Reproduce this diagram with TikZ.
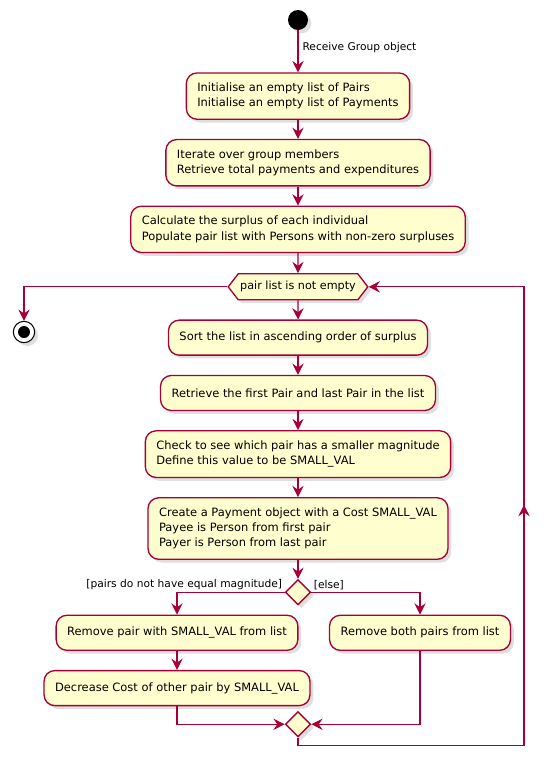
\documentclass[tikz,border=0pt]{standalone}
\usepackage{fontspec}
\setmainfont{DejaVu Sans}
\usetikzlibrary{arrows.meta,decorations.markings,calc,positioning,shapes.geometric,shapes.symbols,shadows}
\definecolor{activityColor}{HTML}{FEFECE}
\definecolor{borderColor}{HTML}{A80036}
\tikzset{shade/.style={drop shadow={shadow xshift=2.5pt, shadow yshift=-2.5pt, opacity=0.25}}}
\tikzset{activity/.style={shade, fill=activityColor, draw=borderColor, line width=1pt, align=left, rounded corners=8pt, inner xsep=8.25pt, inner ysep=7.5pt, minimum height=26.25pt, font=\fontsize{8.6pt}{11.4pt}\selectfont}}
\tikzset{condition/.style={activity, shape=signal, signal to=west and east, signal pointer angle=105, sharp corners, inner xsep=1.5pt, inner ysep=3pt, minimum height=19.5pt, font=\fontsize{8.4pt}{10pt}\selectfont}}
\tikzset{branch/.style={activity, shape=diamond, sharp corners, inner sep=0pt, minimum size=19pt}}
\tikzset{initial/.style={shade, circle, fill=black, inner sep=0pt, minimum size=15pt}}
\tikzset{final/.style={shade, circle, draw=black, fill=white, line width=0.8pt, inner sep=0pt, minimum size=16pt, path picture={\fill[black] (path picture bounding box.center) circle (4.5pt);}}}
\tikzset{guard/.style={font=\fontsize{8pt}{10pt}\selectfont, inner sep=1.5pt}}
\tikzstyle{arrow} = [draw=borderColor, line width=0.8pt, -{Stealth[length=8.5pt, width=8.5pt, inset=3pt]}]

\begin{document}
\begin{tikzpicture}[x=0.75pt, y=-0.75pt, node distance=14.25pt]
	\useasboundingbox (0,0) rectangle (549,764);
	% Nodes
	\node (start) [initial] at (298,20) {};
	\node (init) [activity, below=31.5pt of start] {Initialise an empty list of Pairs\\Initialise an empty list of Payments};
	\node (iterate) [activity, below=of init] {Iterate over group members\\Retrieve total payments and expenditures};
	\node (surplus) [activity, below=of iterate] {Calculate the surplus of each individual\\Populate pair list with Persons with non-zero surpluses};
	\node (loop) [condition, below=15pt of surplus] {pair list is not empty};
	\node (stop) [final] at (24,332) {};
	\node (sort) [activity, below=of loop] {Sort the list in ascending order of surplus};
	\node (retrieve) [activity, below=of sort] {Retrieve the first Pair and last Pair in the list};
	\node (check) [activity, below=of retrieve] {Check to see which pair has a smaller magnitude\\Define this value to be SMALL\_VAL};
	\node (create) [activity, below=of check] {Create a Payment object with a Cost SMALL\_VAL\\Payee is Person from first pair\\Payer is Person from last pair};
	\node (decision) [branch, below=of create] {};
	\node (removeOne) [activity, below=6.75pt of decision, xshift=-90.75pt] {Remove pair with SMALL\_VAL from list};
	\node (decrease) [activity, below=of removeOne] {Decrease Cost of other pair by SMALL\_VAL};
	\node (removeBoth) [activity, below=6.75pt of decision, xshift=91.5pt] {Remove both pairs from list};
	\node (merge) [branch] at ($(decrease.south -| decision)+(0,18)$) {};
	\coordinate (loopCorner) at ($(merge.south)+(226,8)$);

	% Connectors
	\begin{scope}[->]
		\draw [arrow] (start) -- node[guard, right, pos=0.4, inner sep=3pt] {Receive Group object} (init);
		\draw [arrow] (init) -- (iterate);
		\draw [arrow] (iterate) -- (surplus);
		\draw [arrow] (surplus) -- (loop);
		\draw [arrow] (loop.west) -| (stop.north);
		\draw [arrow] (loop) -- (sort);
		\draw [arrow] (sort) -- (retrieve);
		\draw [arrow] (retrieve) -- (check);
		\draw [arrow] (check) -- (create);
		\draw [arrow] (create) -- (decision);
		\draw [arrow] (decision.west) -| node[guard, anchor=south east, pos=0] {[pairs do not have equal magnitude]} (removeOne.north);
		\draw [arrow] (decision.east) -| node[guard, anchor=south west, pos=0] {[else]} (removeBoth.north);
		\draw [arrow] (removeOne) -- (decrease);
		\draw [arrow] (decrease.south) |- (merge.west);
		\draw [arrow] (removeBoth.south) |- (merge.east);
		\draw [arrow, postaction={decorate}, decoration={markings, mark=at position 356pt with {\arrow{Stealth[length=8.5pt, width=8.5pt, inset=3pt]}}}] (merge.south) |- (loopCorner) |- (loop.east);
	\end{scope}
\end{tikzpicture}
\end{document}
